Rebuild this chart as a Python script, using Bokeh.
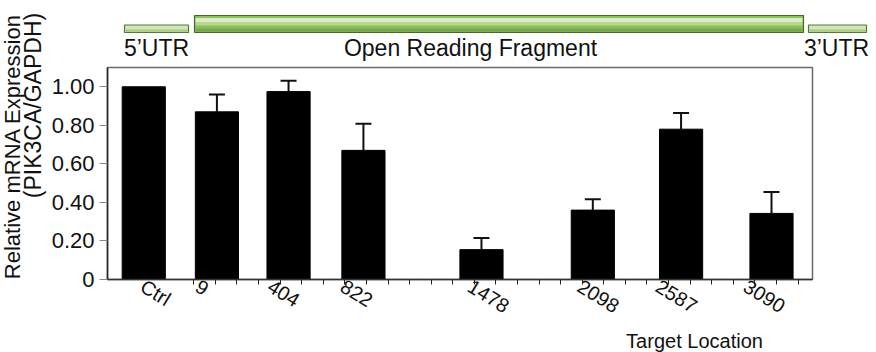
import math
from bokeh.plotting import figure
from bokeh.layouts import row, column
from bokeh.models import (ColumnDataSource, FixedTicker, Label,
                          Whisker, TeeHead, Range1d)
from bokeh.embed import file_html
from bokeh.resources import INLINE

# ---- data ----
categories = ["Ctrl", "9", "404", "822", "1478", "2098", "2587", "3090"]
expression = [1.00, 0.87, 0.975, 0.67, 0.155, 0.36, 0.78, 0.343]
error = [0.0, 0.09, 0.056, 0.138, 0.06, 0.056, 0.084, 0.111]
y_ticks = [0, 0.2, 0.4, 0.6, 0.8, 1.0]
y_tick_labels = ["0", "0.20", "0.40", "0.60", "0.80", "1.00"]
gene_regions = ["5\u2019UTR", "Open Reading Fragment", "3\u2019UTR"]
x_title = "Target Location"
y_title = ["Relative mRNA Expression", "(PIK3CA/GAPDH)"]

# ---- layout (axis units / page pixels) ----
bar_pos = [1.68, 5.07, 8.39, 11.86, 17.33, 22.49, 26.58, 30.77]
label_pos = [1.62, 4.17, 7.51, 10.89, 16.78, 21.87, 25.49, 29.56]
minor_pos = list(range(4, 33))
X_MAX, Y_MAX = 32.67, 1.1
FONT = "Liberation Sans"
TXT = "#111111"
W, H = 876, 352
TW = 48          # y-title strip (page x 0..48)
GH = 63          # gene diagram strip (page y 0..63)
CH = 266         # chart (page y 63..329)
BH = H - GH - CH # x-title strip (page y 329..352)
SHIFT = 0.33     # label anchor correction (em)


def strip(width, height, x0, y0):
    f = figure(width=width, height=height,
               x_range=Range1d(x0, x0 + width), y_range=Range1d(0, height),
               output_backend="svg", toolbar_location=None, min_border=0,
               x_axis_location=None, y_axis_location=None, frame_align=False)
    f.outline_line_color = None
    f.xgrid.visible = False
    f.ygrid.visible = False
    return f


# ---------------- y title strip ----------------
t = strip(TW, H, 0, 0)
t.add_layout(Label(x=20.5 - 0.37 * 22, y=H - 146, text=y_title[0], angle=math.pi / 2,
                   text_align="center", text_baseline="alphabetic",
                   text_font=FONT, text_font_size="22px", text_color=TXT))
t.add_layout(Label(x=41.5 - 0.37 * 23, y=H - 105, text=y_title[1], angle=math.pi / 2,
                   text_align="center", text_baseline="alphabetic",
                   text_font=FONT, text_font_size="23px", text_color=TXT))

# ---------------- gene diagram strip ----------------
g = strip(W - TW, GH, TW, 0)


def gy(py):
    return GH - py


utr5 = (124, 188, 24.5, 32)
orf = (194, 803, 15, 32)
utr3 = (808, 866, 24.5, 32)
for (l, r, tp, bt) in (utr5, utr3):
    g.quad(left=[l], right=[r], top=[gy(tp)], bottom=[gy(bt)],
           fill_color="#d3e5bb", line_color="#4e7d33", line_width=1.2)
    g.quad(left=[l + 1], right=[r - 1], top=[gy(bt - 3)], bottom=[gy(bt - 0.8)],
           fill_color="#a6ca80", line_color=None)
l, r, tp, bt = orf
g.quad(left=[l], right=[r], top=[gy(tp)], bottom=[gy(bt)],
       fill_color="#8dbf5f", line_color="#3f6e22", line_width=1.2)
for (t0, t1, c) in ((tp + 2.5, tp + 6.5, "#dcecc8"),
                    (tp + 6.5, tp + 10, "#b5d68f"),
                    (bt - 4, bt - 0.8, "#77a94b")):
    g.quad(left=[l + 1], right=[r - 1], top=[gy(t0)], bottom=[gy(t1)],
           fill_color=c, line_color=None)

for txt, cx in zip(gene_regions, [156, 470, 836]):
    g.add_layout(Label(x=cx, y=gy(55 - SHIFT * 23), text=txt, text_align="center",
                       text_baseline="alphabetic", text_font=FONT,
                       text_font_size="23px", text_color=TXT))

# ---------------- bar chart ----------------
p = figure(width=W - TW, height=CH,
           x_range=Range1d(0, X_MAX), y_range=Range1d(0, Y_MAX),
           output_backend="svg", toolbar_location=None, frame_align=False,
           min_border_left=59, min_border_right=64,
           min_border_top=4, min_border_bottom=CH - 4 - 215)
p.outline_line_color = "#6a6a6a"
p.outline_line_width = 1.5
p.xgrid.visible = False
p.ygrid.visible = False

src = ColumnDataSource(dict(x=bar_pos, top=expression, cat=categories))
p.vbar(x="x", top="top", width=2.0, source=src,
       fill_color="black", line_color="black")

err_idx = [i for i, e in enumerate(error) if e > 0]
esrc = ColumnDataSource(dict(
    x=[bar_pos[i] for i in err_idx],
    lower=[expression[i] for i in err_idx],
    upper=[expression[i] + error[i] for i in err_idx]))
p.add_layout(Whisker(base="x", lower="lower", upper="upper", source=esrc,
                     line_color="#111111", line_width=2,
                     upper_head=TeeHead(size=16, line_width=2, line_color="#111111"),
                     lower_head=None))

xa = p.xaxis[0]
xa.ticker = FixedTicker(ticks=label_pos, minor_ticks=minor_pos)
xa.major_label_overrides = {float(x): c for x, c in zip(label_pos, categories)}
xa.major_tick_out = 0
xa.major_tick_in = 0
xa.minor_tick_out = 5
xa.minor_tick_in = 0
xa.minor_tick_line_color = "#222222"
xa.axis_line_color = "#333333"
xa.axis_line_width = 1.5
xa.major_label_orientation = -0.55
xa.major_label_text_font = FONT
xa.major_label_text_font_size = "20px"
xa.major_label_text_color = TXT
xa.major_label_standoff = 0

ya = p.yaxis[0]
ya.ticker = FixedTicker(ticks=y_ticks, minor_ticks=[])
ya.major_label_overrides = {float(v): s for v, s in zip(y_ticks, y_tick_labels)}
ya.major_tick_out = 8
ya.major_tick_in = 0
ya.major_tick_line_color = "#888888"
ya.axis_line_color = "#222222"
ya.axis_line_width = 1.5
ya.major_label_text_font = FONT
ya.major_label_text_font_size = "22px"
ya.major_label_text_color = TXT
ya.major_label_standoff = 5

# ---------------- x title strip ----------------
b = strip(W - TW, BH, TW, 0)
b.add_layout(Label(x=694, y=H - (347.5 - SHIFT * 20), text=x_title,
                   text_align="center", text_baseline="alphabetic",
                   text_font=FONT, text_font_size="20px", text_color=TXT))

layout = row(t, column(g, p, b))
open("out.html", "w").write(file_html(layout, INLINE))
